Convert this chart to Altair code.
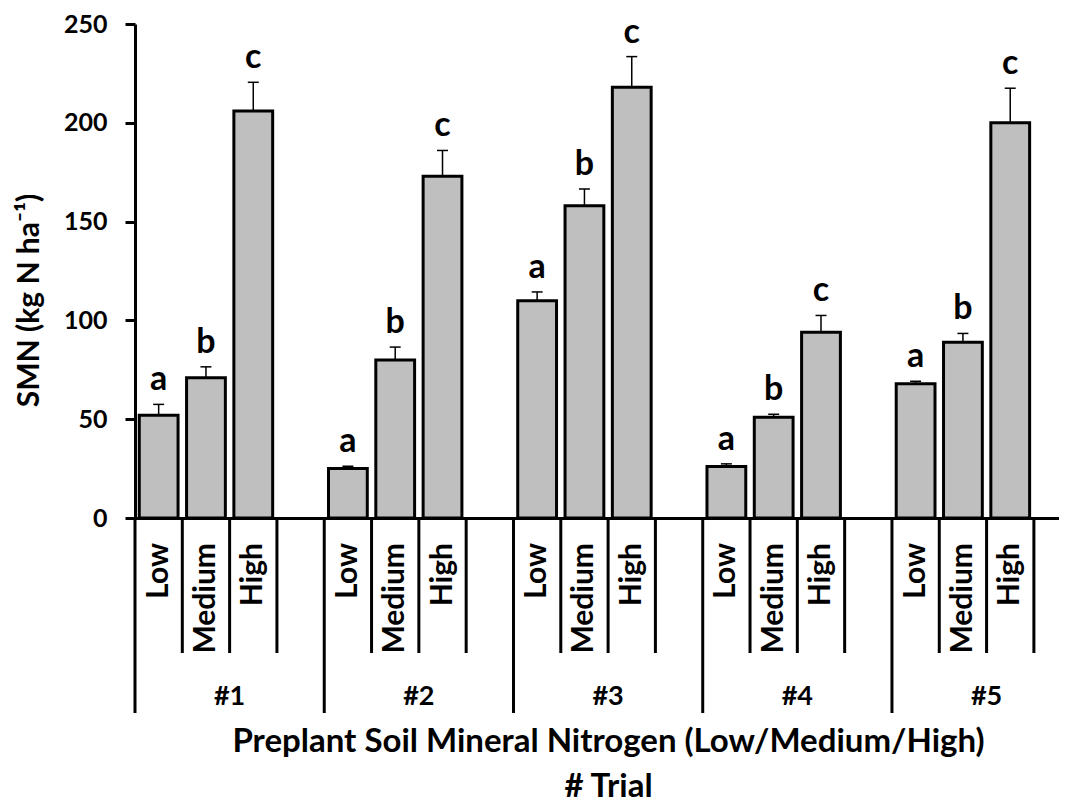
import altair as alt
import pandas as pd

# ---- data ----
trials = ["#1", "#2", "#3", "#4", "#5"]
levels = ["Low", "Medium", "High"]
letters = ["a", "b", "c"]
smn_low = [52, 25, 110, 26, 68]
smn_medium = [71, 80, 158, 51, 89]
smn_high = [206, 173, 218, 94, 200]
se_low = [5.5, 1.2, 4.4, 1.4, 1.2]
se_medium = [5.5, 6.5, 8.5, 1.5, 4.4]
se_high = [14.5, 13.0, 15.5, 8.5, 17.5]
y_ticks = [0, 50, 100, 150, 200, 250]
y_title = "SMN (kg N ha\u207b\u00b9)"
x_title = ["Preplant Soil Mineral Nitrogen (Low/Medium/High)", "# Trial"]

# ---- layout ----
FONT = "Lato"
PLOT_W, PLOT_H = 924, 494
SLOT_PX = 47.31
SLOTS = 4  # Low, Medium, High, gap
X_MAX = PLOT_W / SLOT_PX

rows = []
for t, trial in enumerate(trials):
    vals = [smn_low[t], smn_medium[t], smn_high[t]]
    ses = [se_low[t], se_medium[t], se_high[t]]
    for l, lev in enumerate(levels):
        slot = t * SLOTS + l
        rows.append(dict(trial=trial, level=lev, letter=letters[l],
                         smn=vals[l], se=ses[l], top=vals[l] + ses[l], base=0,
                         x0=slot + 0.09, x1=slot + 0.91, xc=slot + 0.5,
                         cl=slot + 0.5 - 0.116, cr=slot + 0.5 + 0.116))
bars = pd.DataFrame(rows)

divs = pd.DataFrame([dict(xb=b, base=0, tall=(b % SLOTS == 0))
                     for b in range(len(trials) * SLOTS)])
tl = pd.DataFrame([dict(trial=tr, xt=t * SLOTS + SLOTS / 2) for t, tr in enumerate(trials)])

x_scale = alt.Scale(domain=[0, X_MAX], nice=False, zero=False)
y_scale = alt.Scale(domain=[0, 250], nice=False)

x_axis = alt.Axis(domain=True, domainColor="black", domainWidth=3, ticks=False,
                  labels=False, grid=False, title=x_title, titleFont=FONT,
                  titleFontWeight="bold", titleFontSize=33, titleColor="black",
                  titleX=473, titleY=233, titleBaseline="alphabetic",
                  titleAlign="center", titleLineHeight=45)
y_axis = alt.Axis(values=y_ticks, domain=True, domainColor="black", domainWidth=3,
                  ticks=True, tickColor="black", tickWidth=3, tickSize=10,
                  labelFont=FONT, labelFontWeight="bold", labelFontSize=25,
                  labelColor="black", labelPadding=18, grid=False,
                  title=y_title, titleFont=FONT, titleFontWeight="bold",
                  titleFontSize=30, titleColor="black", titleX=-97, titleY=276,
                  titleAngle=270, titleBaseline="alphabetic", titleAlign="center")


def X(f):
    return alt.X(f, scale=x_scale, axis=x_axis)


def Y(f):
    return alt.Y(f, scale=y_scale, axis=y_axis)


base = alt.Chart(bars)

bar_layer = base.mark_bar(fill="#BFBFBF", stroke="black", strokeWidth=3).encode(
    x=X("x0:Q"), x2="x1:Q", y=Y("smn:Q"), y2="base:Q")

err_layer = base.mark_rule(color="black", strokeWidth=1.5).encode(
    x=X("xc:Q"), y=Y("smn:Q"), y2="top:Q")

cap_layer = base.mark_rule(color="black", strokeWidth=1.5).encode(
    x=X("cl:Q"), x2="cr:Q", y=Y("top:Q"))

letter_layer = base.mark_text(font=FONT, fontWeight="bold", fontSize=34,
                              baseline="alphabetic", dy=-14, color="black").encode(
    x=X("xc:Q"), y=Y("top:Q"), text="letter:N")

short_div = alt.Chart(divs).transform_filter("!datum.tall").mark_rule(
    color="black", strokeWidth=3).encode(
    x=X("xb:Q"), y=Y("base:Q"), y2=alt.value(629))

tall_div = alt.Chart(divs).transform_filter("datum.tall").mark_rule(
    color="black", strokeWidth=3).encode(
    x=X("xb:Q"), y=Y("base:Q"), y2=alt.value(689))

cat_layer = base.mark_text(font=FONT, fontWeight="bold", fontSize=30, angle=270,
                           align="right", baseline="middle", color="black").encode(
    x=X("xc:Q"), y=alt.value(519), text="level:N")

trial_layer = alt.Chart(tl).mark_text(font=FONT, fontWeight="bold", fontSize=27,
                                      align="center", baseline="alphabetic",
                                      color="black").encode(
    x=X("xt:Q"), y=alt.value(681), text="trial:N")

chart = alt.layer(
    short_div, tall_div, err_layer, cap_layer, bar_layer, letter_layer,
    cat_layer, trial_layer
).properties(
    width=PLOT_W, height=PLOT_H,
    autosize=alt.AutoSizeParams(type="none"),
    padding={"left": 127, "top": 16, "right": 0, "bottom": 287},
    background="white",
).configure_view(strokeWidth=0)

chart.save("out.html", embed_options={"renderer": "svg", "actions": False})
